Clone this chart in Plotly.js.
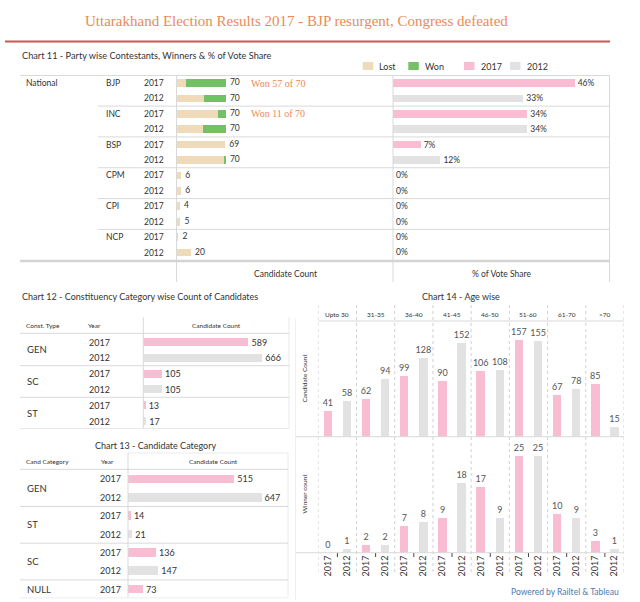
<!DOCTYPE html>
<html><head><meta charset="utf-8">
<script src="https://cdn.plot.ly/plotly-3.0.1.min.js"></script>
<style>html,body{margin:0;padding:0;background:#fff}#chart{width:640px;height:602px}</style>
</head><body><div id="chart"></div>
<script>
// ---------- data ----------
const parties = ['BJP','INC','BSP','CPM','CPI','NCP'];
const years = ['2017','2012'];
const won2017 = [57,11,0,0,0,0];
const lost2017 = [13,59,69,6,4,2];
const won2012 = [31,32,3,0,0,0];
const lost2012 = [39,38,67,6,5,20];
const vote2017 = [46,34,7,0,0,0];
const vote2012 = [33,34,12,0,0,0];

const constTypes = ['GEN','SC','ST'];
const const2017 = [589,105,13];
const const2012 = [666,105,17];

const candCats = ['GEN','ST','SC','NULL'];
const cand2017 = [515,14,136,73];
const cand2012 = [647,21,147,null];

const ageGroups = ['Upto 30','31-35','36-40','41-45','46-50','51-60','61-70','>70'];
const ageCand2017 = [41,62,99,90,106,157,67,85];
const ageCand2012 = [58,94,128,152,108,155,78,15];
const ageWin2017 = [0,2,7,9,17,25,10,3];
const ageWin2012 = [1,2,8,18,9,25,9,1];

// ---------- helpers ----------
const W=640,H=602;
const px = x => x/W;
const py = y => 1 - y/H;
const C = {lost:'#EFDBBA', won:'#74C066', y17:'#F8BDD2', y12:'#E2E2E2', text:'#333', line:'#D9D9D9', orange:'#EC8A57'};
const FONT = 'Lato, "Open Sans", sans-serif';

// ---------- chart 11 ----------
const rows11 = parties.flatMap(p => years.map(y => p+' '+y));
const lostX = parties.flatMap((p,i)=>[lost2017[i], lost2012[i]]);
const wonX = parties.flatMap((p,i)=>[won2017[i], won2012[i]]);
const totX = lostX.map((v,i)=>v+wonX[i]);

const traces = [];
traces.push({type:'bar', orientation:'h', x:lostX, y:rows11, xaxis:'x', yaxis:'y', width:0.5, marker:{color:C.lost}, hoverinfo:'skip'});
traces.push({type:'bar', orientation:'h', x:wonX, y:rows11, xaxis:'x', yaxis:'y', width:0.5, marker:{color:C.won}, hoverinfo:'skip'});
traces.push({type:'scatter', mode:'markers+text', x:totX, y:rows11, text:totX.map(String), textposition:'middle right',
  marker:{size:5, color:'rgba(0,0,0,0)'}, textfont:{size:8.5, color:C.text, family:FONT}, xaxis:'x', yaxis:'y', hoverinfo:'skip', cliponaxis:false});
traces.push({type:'bar', orientation:'h', x:vote2017, y:parties.map(p=>p+' 2017'), xaxis:'x2', yaxis:'y2', width:0.5, marker:{color:C.y17},
  texttemplate:'%{x}%', textposition:'outside', textfont:{size:8.5,color:C.text}, cliponaxis:false, constraintext:'none', hoverinfo:'skip'});
traces.push({type:'bar', orientation:'h', x:vote2012, y:parties.map(p=>p+' 2012'), xaxis:'x2', yaxis:'y2', width:0.5, marker:{color:C.y12},
  texttemplate:'%{x}%', textposition:'outside', textfont:{size:8.5,color:C.text}, cliponaxis:false, constraintext:'none', hoverinfo:'skip'});

// ---------- chart 12 ----------
const rows12 = constTypes.flatMap(c => years.map(y => c+' '+y));
traces.push({type:'bar', orientation:'h', x:const2017, y:constTypes.map(c=>c+' 2017'), xaxis:'x3', yaxis:'y3', width:0.5, marker:{color:C.y17},
  text:const2017.map(String), textposition:'outside', textfont:{size:9,color:C.text}, cliponaxis:false, constraintext:'none', hoverinfo:'skip'});
traces.push({type:'bar', orientation:'h', x:const2012, y:constTypes.map(c=>c+' 2012'), xaxis:'x3', yaxis:'y3', width:0.5, marker:{color:C.y12},
  text:const2012.map(String), textposition:'outside', textfont:{size:9,color:C.text}, cliponaxis:false, constraintext:'none', hoverinfo:'skip'});

// ---------- chart 13 ----------
const rows13 = candCats.flatMap((c,i)=> years.filter((y,j)=> (j===0?cand2017[i]:cand2012[i]) != null).map(y=>c+' '+y));
const c13_17 = candCats.map((c,i)=>({y:c+' 2017', v:cand2017[i]})).filter(d=>d.v!=null);
const c13_12 = candCats.map((c,i)=>({y:c+' 2012', v:cand2012[i]})).filter(d=>d.v!=null);
traces.push({type:'bar', orientation:'h', x:c13_17.map(d=>d.v), y:c13_17.map(d=>d.y), xaxis:'x4', yaxis:'y4', width:0.48, marker:{color:C.y17},
  text:c13_17.map(d=>String(d.v)), textposition:'outside', textfont:{size:9,color:C.text}, cliponaxis:false, constraintext:'none', hoverinfo:'skip'});
traces.push({type:'bar', orientation:'h', x:c13_12.map(d=>d.v), y:c13_12.map(d=>d.y), xaxis:'x4', yaxis:'y4', width:0.48, marker:{color:C.y12},
  text:c13_12.map(d=>String(d.v)), textposition:'outside', textfont:{size:9,color:C.text}, cliponaxis:false, constraintext:'none', hoverinfo:'skip'});

// ---------- chart 14 ----------
const cat14 = ageGroups.flatMap(a => years.map(y => a+'|'+y));
function ageBar(vals, yr, color, xa, ya){
  return {type:'bar', x:ageGroups.map(a=>a+'|'+yr), y:vals, xaxis:xa, yaxis:ya, width:0.44, marker:{color:color},
    text:vals.map(String), textposition:'outside', textfont:{size:9,color:'#555'}, cliponaxis:false, constraintext:'none', hoverinfo:'skip'};
}
traces.push(ageBar(ageCand2017,'2017',C.y17,'x5','y5'));
traces.push(ageBar(ageCand2012,'2012',C.y12,'x5','y5'));
traces.push(ageBar(ageWin2017,'2017',C.y17,'x6','y6'));
traces.push(ageBar(ageWin2012,'2012',C.y12,'x6','y6'));

// ---------- layout pieces ----------
const ann = [];
const shp = [];
function T(text, x, y, opt={}) {
  ann.push(Object.assign({text:text, x:px(x), y:py(y), xref:'paper', yref:'paper', showarrow:false, xanchor:'left', yanchor:'middle',
    font:{size:8.5, color:C.text, family:FONT}}, opt));
}
function L(x0,y0,x1,y1,color,width,dash){
  shp.push({type:'line', xref:'paper', yref:'paper', x0:px(x0), x1:px(x1), y0:py(y0), y1:py(y1), line:{color:color||C.line, width:width||1, dash:dash||'solid'}});
}

// title
T('Uttarakhand Election Results 2017 - BJP resurgent, Congress defeated', 296.5, 21.5,
  {xanchor:'center', font:{size:15, color:C.orange, family:'"Liberation Serif", serif'}});
L(5,41.5,610,41.5,'#C45A52',2);

// chart 11 texts
T('Chart 11 - Party wise Contestants, Winners & % of Vote Share', 20, 56, {font:{size:9.2,color:C.text,family:FONT}});
const legendItems = [['Lost',C.lost,362.7],['Won',C.won,408.3],['2017',C.y17,464],['2012',C.y12,510]];
legendItems.forEach(([lab,col,x])=>{
  shp.push({type:'rect', xref:'paper', yref:'paper', x0:px(x), x1:px(x+10.5), y0:py(70), y1:py(62), fillcolor:col, line:{width:0}});
  T(lab, x+14.5, 66.5, {font:{size:9,color:C.text,family:FONT}});
});
T('National', 24, 0, {yref:'y', y:rows11[0]});
parties.forEach((p,i)=>{
  ann.push({text:p, x:px(104), y:p+' 2017', xref:'paper', yref:'y', showarrow:false, xanchor:'left', font:{size:8.5,color:C.text,family:FONT}});
  years.forEach(yr=>{
    ann.push({text:yr, x:px(142), y:p+' '+yr, xref:'paper', yref:'y', showarrow:false, xanchor:'left', font:{size:8.5,color:C.text,family:FONT}});
  });
  if (i>0) shp.push({type:'line', xref:'paper', yref:'y', x0:px(98), x1:px(609.5), y0:2*i-0.5, y1:2*i-0.5, line:{color:C.line,width:1}});
});
[0,1].forEach(i=>{
  const tot = won2017[i]+lost2017[i];
  ann.push({text:'Won '+won2017[i]+' of '+tot, x:px(249), y:parties[i]+' 2017', xref:'paper', yref:'y', showarrow:false, xanchor:'left',
    font:{size:10, color:C.orange, family:'"Liberation Serif", serif'}});
});
L(20,75.5,609.5,75.5);
L(176.5,75.5,176.5,282);
L(393,75.5,393,282);
L(609.5,75.5,609.5,282);
L(20,261,609.5,261,'#D4D4D4',2.5);
T('Candidate Count', 285, 274, {xanchor:'center'});
T('% of Vote Share', 501, 274, {xanchor:'center'});

// chart 12 texts
T('Chart 12 - Constituency Category wise Count of Candidates', 20, 296, {font:{size:9,color:C.text,family:FONT}});
T('Const. Type', 24, 325.7, {font:{size:6.5,color:C.text,family:FONT}});
T('Year', 86, 325.7, {font:{size:6.5,color:C.text,family:FONT}});
T('Candidate Count', 216.7, 325.7, {xanchor:'center', font:{size:6.5,color:C.text,family:FONT}});
L(143.3,317.3,143.3,428.5);
L(289,317.3,289,428.5,'#EBEBEB');
L(20,333.3,289,333.3);
constTypes.forEach((c,i)=>{
  const k = rows12.indexOf(c+' 2017');
  ann.push({text:c, x:px(25), y:k+0.5, xref:'paper', yref:'y3', showarrow:false, xanchor:'left', font:{size:9.5,color:C.text,family:FONT}});
  years.forEach(yr=>{
    ann.push({text:yr, x:px(86.5), y:c+' '+yr, xref:'paper', yref:'y3', showarrow:false, xanchor:'left', font:{size:9,color:C.text,family:FONT}});
  });
  shp.push({type:'line', xref:'paper', yref:'y3', x0:px(20), x1:px(289), y0:k+1.5, y1:k+1.5, line:{color:C.line,width:1}});
});

// chart 13 texts
T('Chart 13 - Candidate Category', 155, 445, {xanchor:'center', font:{size:9,color:C.text,family:FONT}});
T('Cand Category', 24, 461.5, {font:{size:6.5,color:C.text,family:FONT}});
T('Year', 99, 461.5, {font:{size:6.5,color:C.text,family:FONT}});
T('Candidate Count', 213, 461.5, {xanchor:'center', font:{size:6.5,color:C.text,family:FONT}});
L(128,453,288,453,'#EBEBEB');
L(128,453,128,597);
L(288,453,288,597,'#EBEBEB');
L(20,469.3,288,469.3);
candCats.forEach((c,i)=>{
  const rs = rows13.filter(r=>r.startsWith(c+' '));
  const k = rows13.indexOf(rs[0]);
  ann.push({text:c, x:px(25), y:k+(rs.length-1)/2, xref:'paper', yref:'y4', showarrow:false, xanchor:'left', font:{size:9.5,color:C.text,family:FONT}});
  rs.forEach(r=>{
    ann.push({text:r.split(' ')[1], x:px(98), y:r, xref:'paper', yref:'y4', showarrow:false, xanchor:'left', font:{size:9,color:C.text,family:FONT}});
  });
  shp.push({type:'line', xref:'paper', yref:'y4', x0:px(20), x1:px(288), y0:k+rs.length-0.5, y1:k+rs.length-0.5, line:{color:C.line,width:1}});
});

// chart 14 texts
T('Chart 14 - Age wise', 460.7, 296, {xanchor:'center', font:{size:9,color:C.text,family:FONT}});
ageGroups.forEach((a,i)=>{
  ann.push({text:a, x:2*i+0.5, y:py(314.3), xref:'x5', yref:'paper', showarrow:false, xanchor:'center', font:{size:6.5,color:C.text,family:FONT}});
  shp.push({type:'line', xref:'x6', yref:'paper', x0:2*i+0.5, x1:2*i+0.5, y0:py(553), y1:py(557), line:{color:'#444',width:1}});
});
for (let i=0;i<=ageGroups.length;i++){
  shp.push({type:'line', xref:'x5', yref:'paper', x0:2*i-0.5, x1:2*i-0.5, y0:py(305), y1:py(575), line:{color:'#D0D0D0',width:1,dash:'dot'}});
}
L(318.3,321,624,321);
L(295,436.7,624,436.7);
L(295,552.7,624,552.7);
L(295.5,318,295.5,600,'#EFEFEF');
T('Candidate Count', 304.3, 378.3, {xanchor:'center', textangle:-90, font:{size:6.5,color:C.text,family:FONT}});
T('Winner count', 304.3, 493.3, {xanchor:'center', textangle:-90, font:{size:6.5,color:C.text,family:FONT}});

T('Powered by Railtel & Tableau', 621, 592, {xanchor:'right', font:{size:8.5,color:'#4A79B2',family:FONT}});

// ---------- axes ----------
const base = {showgrid:false, zeroline:false, showticklabels:false, ticks:'', showline:false, fixedrange:true};
const layout = {
  width:W, height:H, margin:{l:0,r:0,t:0,b:0}, paper_bgcolor:'#fff', plot_bgcolor:'rgba(0,0,0,0)',
  showlegend:false, hovermode:false, barmode:'stack', bargap:0.5,
  font:{family:FONT, color:C.text, size:8.5},
  xaxis: Object.assign({}, base, {domain:[px(177),px(393)], range:[0,310], anchor:'y'}),
  yaxis: Object.assign({}, base, {domain:[py(260.2),py(75.3)], type:'category', categoryorder:'array', categoryarray:rows11, range:[rows11.length-0.5,-0.5], anchor:'x'}),
  xaxis2: Object.assign({}, base, {domain:[px(393),px(609)], range:[0,54.7], anchor:'y2'}),
  yaxis2: Object.assign({}, base, {domain:[py(260.2),py(75.3)], type:'category', categoryorder:'array', categoryarray:rows11, range:[rows11.length-0.5,-0.5], anchor:'x2'}),
  xaxis3: Object.assign({}, base, {domain:[px(143.3),px(289)], range:[0,816], anchor:'y3'}),
  yaxis3: Object.assign({}, base, {domain:[py(428.9),py(334.1)], type:'category', categoryorder:'array', categoryarray:rows12, range:[rows12.length-0.5,-0.5], anchor:'x3'}),
  xaxis4: Object.assign({}, base, {domain:[px(128),px(288)], range:[0,775], anchor:'y4'}),
  yaxis4: Object.assign({}, base, {domain:[py(598.2),py(469.8)], type:'category', categoryorder:'array', categoryarray:rows13, range:[rows13.length-0.5,-0.5], anchor:'x4'}),
  xaxis5: Object.assign({}, base, {domain:[px(318.3),px(624)], type:'category', categoryorder:'array', categoryarray:cat14, range:[-0.5,cat14.length-0.5], anchor:'y5'}),
  yaxis5: Object.assign({}, base, {domain:[py(436.7),py(321)], range:[0,188], anchor:'x5'}),
  xaxis6: Object.assign({}, base, {domain:[px(318.3),px(624)], type:'category', categoryorder:'array', categoryarray:cat14, range:[-0.5,cat14.length-0.5], anchor:'y6',
    showticklabels:true, tickmode:'array', tickvals:cat14, ticktext:cat14.map(c=>c.split('|')[1]), tickangle:-90, tickfont:{size:9,color:C.text,family:FONT}}),
  yaxis6: Object.assign({}, base, {domain:[py(552.7),py(436.7)], range:[0,30.1], anchor:'x6'}),
  annotations: ann,
  shapes: shp
};
Plotly.newPlot('chart', traces, layout, {staticPlot:true, displayModeBar:false});
</script></body></html>
